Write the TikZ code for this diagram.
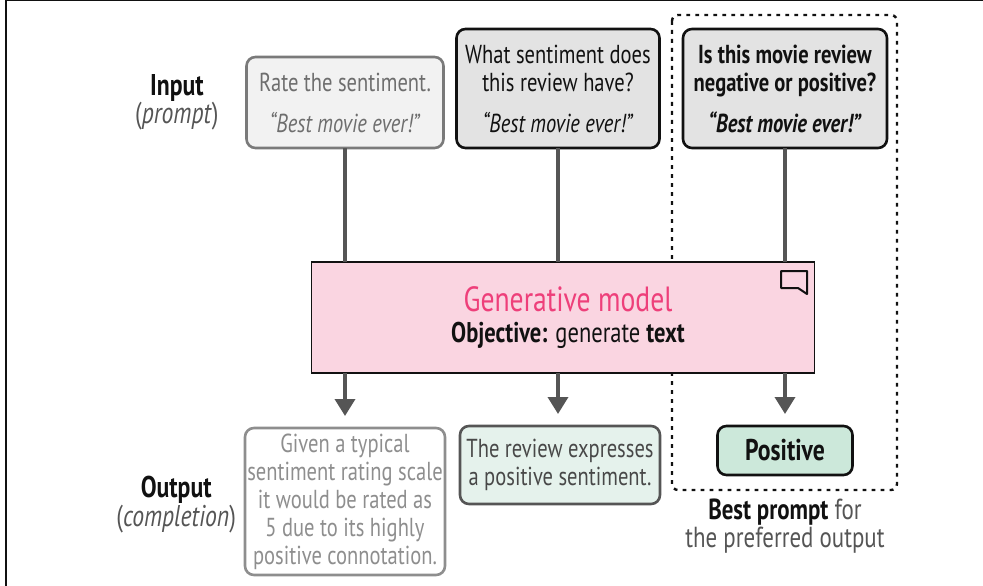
\documentclass[tikz,border=0pt]{standalone}
\usepackage{fontspec}
\setmainfont[FakeStretch=0.79]{PT Sans}
\usepackage{tikz}
\usetikzlibrary{arrows.meta,positioning}
\definecolor{ink}{HTML}{111111}
\definecolor{midgray}{HTML}{555555}
\definecolor{softgray}{HTML}{7A7A7A}
\definecolor{modelpink}{HTML}{FAD5E1}
\definecolor{titlepink}{HTML}{EE3F7A}
\definecolor{palegreen}{HTML}{E5F2EC}
\definecolor{bestgreen}{HTML}{CCE8DA}

\begin{document}
\begin{tikzpicture}[
  x=1pt, y=-1pt,
  every node/.style={inner sep=0pt, outer sep=0pt, align=center,
    font=\fontsize{26pt}{28pt}\selectfont, text=ink},
  promptbox/.style={rectangle, draw=ink, line width=2.6pt, rounded corners=9pt,
    fill=gray!22, minimum width=203pt, minimum height=119pt},
  weakprompt/.style={promptbox, draw=softgray, fill=gray!10, text=softgray!90!black,
    minimum width=197pt, minimum height=91pt},
  answer/.style={rectangle, draw=midgray, line width=2.6pt, rounded corners=9pt,
    fill=palegreen, text=midgray!85!black, minimum width=200pt, minimum height=78pt},
  weakanswer/.style={answer, draw=softgray!85, fill=white, text=softgray!85,
    minimum height=147pt},
  bestanswer/.style={answer, draw=ink, fill=bestgreen, text=ink,
    minimum width=135pt, minimum height=49pt, font=\fontsize{30pt}{28pt}\selectfont},
  model/.style={rectangle, draw=ink, line width=1.6pt, fill=modelpink,
    minimum width=503pt, minimum height=111pt, font=\fontsize{28.5pt}{30pt}\selectfont},
  side/.style={text=midgray, font=\fontsize{30pt}{27pt}\selectfont},
  link/.style={draw=midgray, line width=3.6pt},
  arr/.style={link, -{Triangle[length=17pt, width=20pt]}, shorten >=12pt},
  bestline/.style={draw=ink, line width=2.4pt, dash pattern=on 3.8pt off 5.2pt, rounded corners=6pt}
]
\useasboundingbox (0,0) rectangle (983,586);

% Page edge
\draw[ink, line width=1.6pt] (6,586) -- (6,0) -- (983,0);

% Best prompt frame
\draw[bestline] (672,15) rectangle (897,490);

% Model
\node[model, align=center] (model) at (563,317.5) {\hspace*{10pt}{\fontsize{35pt}{40pt}\selectfont\color{titlepink}Generative model}\\[1pt]
  \hspace*{10pt}\textbf{Objective:} generate \textbf{text}};
\draw[ink, line width=2pt, line join=round] (781,271) -- (807,271) -- (807,294) -- (798,288) -- (781,288) -- cycle;

% Prompts
\node[weakprompt, above=114pt of model.north, xshift=-218pt] (ina) {Rate the sentiment.\\[13pt]\textit{``Best movie ever!''}};
\node[promptbox, above=114pt of model.north, xshift=-5pt] (inb) {What sentiment does\\this review have?\\[13pt]\textit{``Best movie ever!''}};
\node[promptbox, above=114pt of model.north, xshift=222pt, minimum width=204pt] (inc) {\textbf{Is this movie review}\\\textbf{negative or positive?}\\[13pt]\textbf{\textit{``Best movie ever!''}}};

% Completions
\node[weakanswer, below=55pt of model.south, xshift=-218pt] (outa) {Given a typical\\sentiment rating scale\\it would be rated as\\5 due to its highly\\positive connotation.};
\node[answer, below=53pt of model.south, xshift=-3pt] (outb) {The review expresses\\a positive sentiment.};
\node[bestanswer, below=53pt of model.south, xshift=222pt] (outc) {\textbf{Positive}};

% Side labels
\node[side, left=28pt of ina] (inlabel) {\textcolor{ink}{\textbf{Input}}\\(\textit{prompt})};
\node[side, left=9pt of outa, yshift=-3pt] (outlabel) {\textcolor{ink}{\textbf{Output}}\\(\textit{completion})};
\node[side, below=24pt of outc, font=\fontsize{29pt}{28pt}\selectfont] (bestlabel) {\textcolor{ink}{\textbf{Best prompt}} for\\the preferred output};

\draw[link] (ina.south) -- (ina.south |- model.north);
\draw[link] (inb.south) -- (inb.south |- model.north);
\draw[link] (inc.south) -- (inc.south |- model.north);

\draw[arr] (outa.north |- model.south) -- (outa.north);
\draw[arr] (inb.south |- model.south) -- (inb.south |- outb.north);
\draw[arr] (outc.north |- model.south) -- (outc.north);

\end{tikzpicture}
\end{document}
